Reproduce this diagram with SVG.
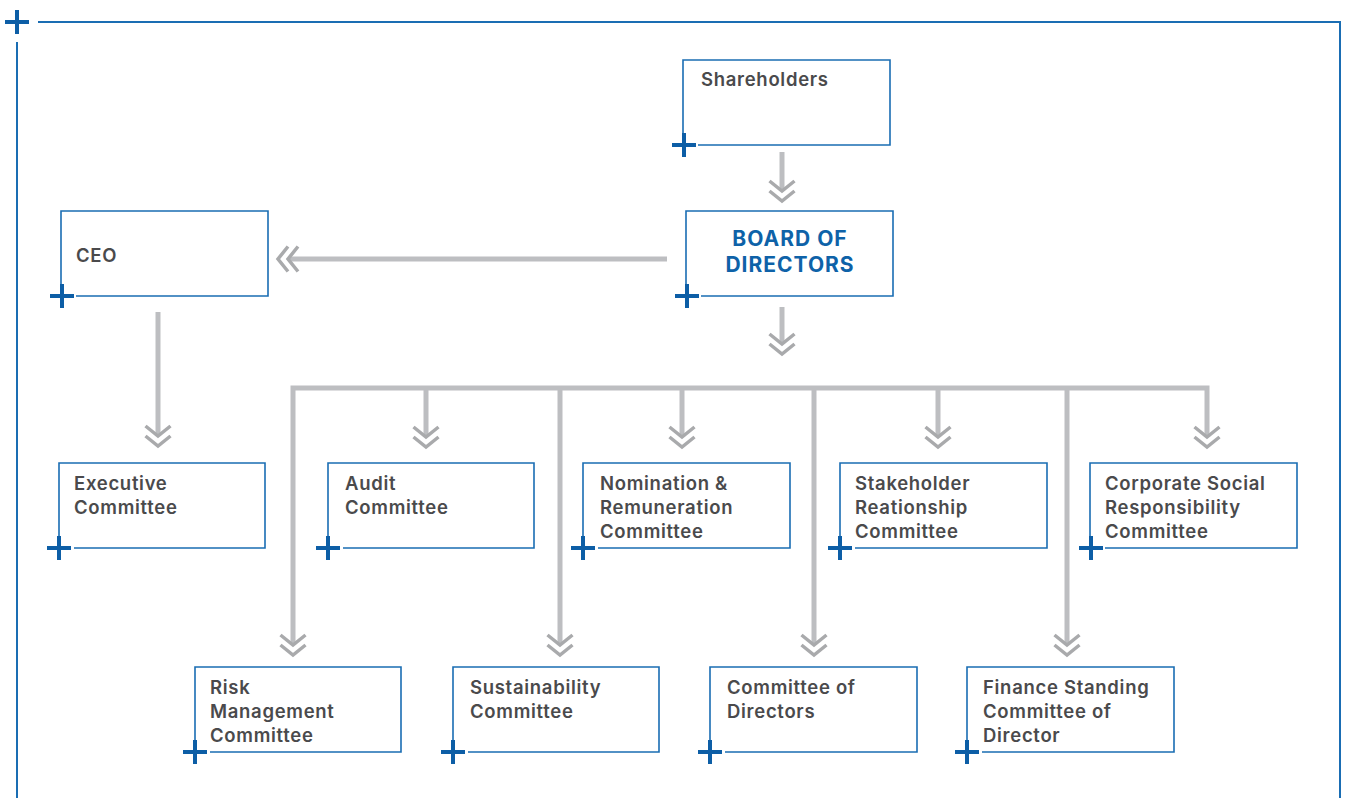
<svg xmlns="http://www.w3.org/2000/svg" xmlns:xlink="http://www.w3.org/1999/xlink" width="1348" height="798" viewBox="0 0 1348 798">
<style>
.frame{fill:none;stroke:#1a6db3;stroke-width:1.6}
.outer{fill:none;stroke:#1a6db3;stroke-width:2}
.plus{fill:none;stroke:#0d5ea6;stroke-width:4}
.lbl{font-family:Inter,"Liberation Sans",sans-serif;font-weight:600;font-size:18.5px;letter-spacing:0.7px;fill:#4a4a4c}
.title{font-family:Inter,"Liberation Sans",sans-serif;font-weight:700;font-size:21px;letter-spacing:1px;fill:#0e62a8}
.conn{fill:none;stroke:#bdbec1;stroke-width:5}
.chev{fill:none;stroke:#a9aaac;stroke-width:3.5}
</style>
<defs>
<g id="chevD"><path class="chev" d="M-12.5,0 L0,10 L12.5,0 M-12.5,10 L0,20 L12.5,10"/></g>
<g id="chevL"><path class="chev" d="M0,-12.5 L-10,0 L0,12.5 M-10,-12.5 L-20,0 L-10,12.5"/></g>
<path id="pl" class="plus" d="M-12,0 H12 M0,-12 V12"/>
</defs>
<rect width="1348" height="798" fill="#fff"/>
<g id="outer-frame">
<path class="outer" d="M38,22 H1340 V798 M17,42 V798"/>
<use xlink:href="#pl" x="17" y="22"/>
</g>
<g id="connectors">
<path class="conn" d="M782,152 V189"/>
<use xlink:href="#chevD" x="782" y="181"/>
<path class="conn" d="M782,307 V342"/>
<use xlink:href="#chevD" x="782" y="334"/>
<path class="conn" d="M667,259 H290"/>
<use xlink:href="#chevL" x="298" y="259"/>
<path class="conn" d="M158,312 V434"/>
<use xlink:href="#chevD" x="158" y="426"/>
<path class="conn" d="M293,643 V388 H1207 V435"/>
<path class="conn" d="M426,388 V435 M682,388 V435 M938,388 V435 M560,388 V643 M814,388 V643 M1067,388 V643"/>
<use xlink:href="#chevD" x="426" y="427"/>
<use xlink:href="#chevD" x="682" y="427"/>
<use xlink:href="#chevD" x="938" y="427"/>
<use xlink:href="#chevD" x="1207" y="427"/>
<use xlink:href="#chevD" x="293" y="635"/>
<use xlink:href="#chevD" x="560" y="635"/>
<use xlink:href="#chevD" x="814" y="635"/>
<use xlink:href="#chevD" x="1067" y="635"/>
</g>
<g id="shareholders">
<path class="frame" d="M698,145 H890 V60 H683 V135"/>
<use xlink:href="#pl" x="684" y="145"/>
<text class="lbl" x="701" y="86">Shareholders</text>
</g>
<g id="board">
<path class="frame" d="M701,296 H893 V211 H686 V286"/>
<use xlink:href="#pl" x="687" y="296"/>
<text class="title" text-anchor="middle"><tspan x="790" y="246">BOARD OF</tspan><tspan x="790" y="272">DIRECTORS</tspan></text>
</g>
<g id="ceo">
<path class="frame" d="M76,296 H268 V211 H61 V286"/>
<use xlink:href="#pl" x="62" y="296"/>
<text class="lbl" x="76" y="262">CEO</text>
</g>
<g id="executive">
<path class="frame" d="M74,548 H265 V463 H59 V538"/>
<use xlink:href="#pl" x="59" y="548"/>
<text class="lbl"><tspan x="74" y="490">Executive</tspan><tspan x="74" y="514">Committee</tspan></text>
</g>
<g id="audit">
<path class="frame" d="M343,548 H534 V463 H328 V538"/>
<use xlink:href="#pl" x="328" y="548"/>
<text class="lbl"><tspan x="345" y="490">Audit</tspan><tspan x="345" y="514">Committee</tspan></text>
</g>
<g id="nomination">
<path class="frame" d="M598,548 H790 V463 H583 V538"/>
<use xlink:href="#pl" x="583" y="548"/>
<text class="lbl"><tspan x="600" y="490">Nomination &amp;</tspan><tspan x="600" y="514">Remuneration</tspan><tspan x="600" y="538">Committee</tspan></text>
</g>
<g id="stakeholder">
<path class="frame" d="M855,548 H1047 V463 H840 V538"/>
<use xlink:href="#pl" x="840" y="548"/>
<text class="lbl"><tspan x="855" y="490">Stakeholder</tspan><tspan x="855" y="514">Reationship</tspan><tspan x="855" y="538">Committee</tspan></text>
</g>
<g id="csr">
<path class="frame" d="M1105,548 H1297 V463 H1090 V538"/>
<use xlink:href="#pl" x="1091" y="548"/>
<text class="lbl"><tspan x="1105" y="490">Corporate Social</tspan><tspan x="1105" y="514">Responsibility</tspan><tspan x="1105" y="538">Committee</tspan></text>
</g>
<g id="risk">
<path class="frame" d="M210,752 H401 V667 H195 V742"/>
<use xlink:href="#pl" x="195" y="752"/>
<text class="lbl"><tspan x="210" y="694">Risk</tspan><tspan x="210" y="718">Management</tspan><tspan x="210" y="742">Committee</tspan></text>
</g>
<g id="sustainability">
<path class="frame" d="M468,752 H659 V667 H453 V742"/>
<use xlink:href="#pl" x="453" y="752"/>
<text class="lbl"><tspan x="470" y="694">Sustainability</tspan><tspan x="470" y="718">Committee</tspan></text>
</g>
<g id="committee-of-directors">
<path class="frame" d="M725,752 H917 V667 H710 V742"/>
<use xlink:href="#pl" x="710" y="752"/>
<text class="lbl"><tspan x="727" y="694">Committee of</tspan><tspan x="727" y="718">Directors</tspan></text>
</g>
<g id="finance">
<path class="frame" d="M982,752 H1174 V667 H967 V742"/>
<use xlink:href="#pl" x="967" y="752"/>
<text class="lbl"><tspan x="983" y="694">Finance Standing</tspan><tspan x="983" y="718">Committee of</tspan><tspan x="983" y="742">Director</tspan></text>
</g>
</svg>
